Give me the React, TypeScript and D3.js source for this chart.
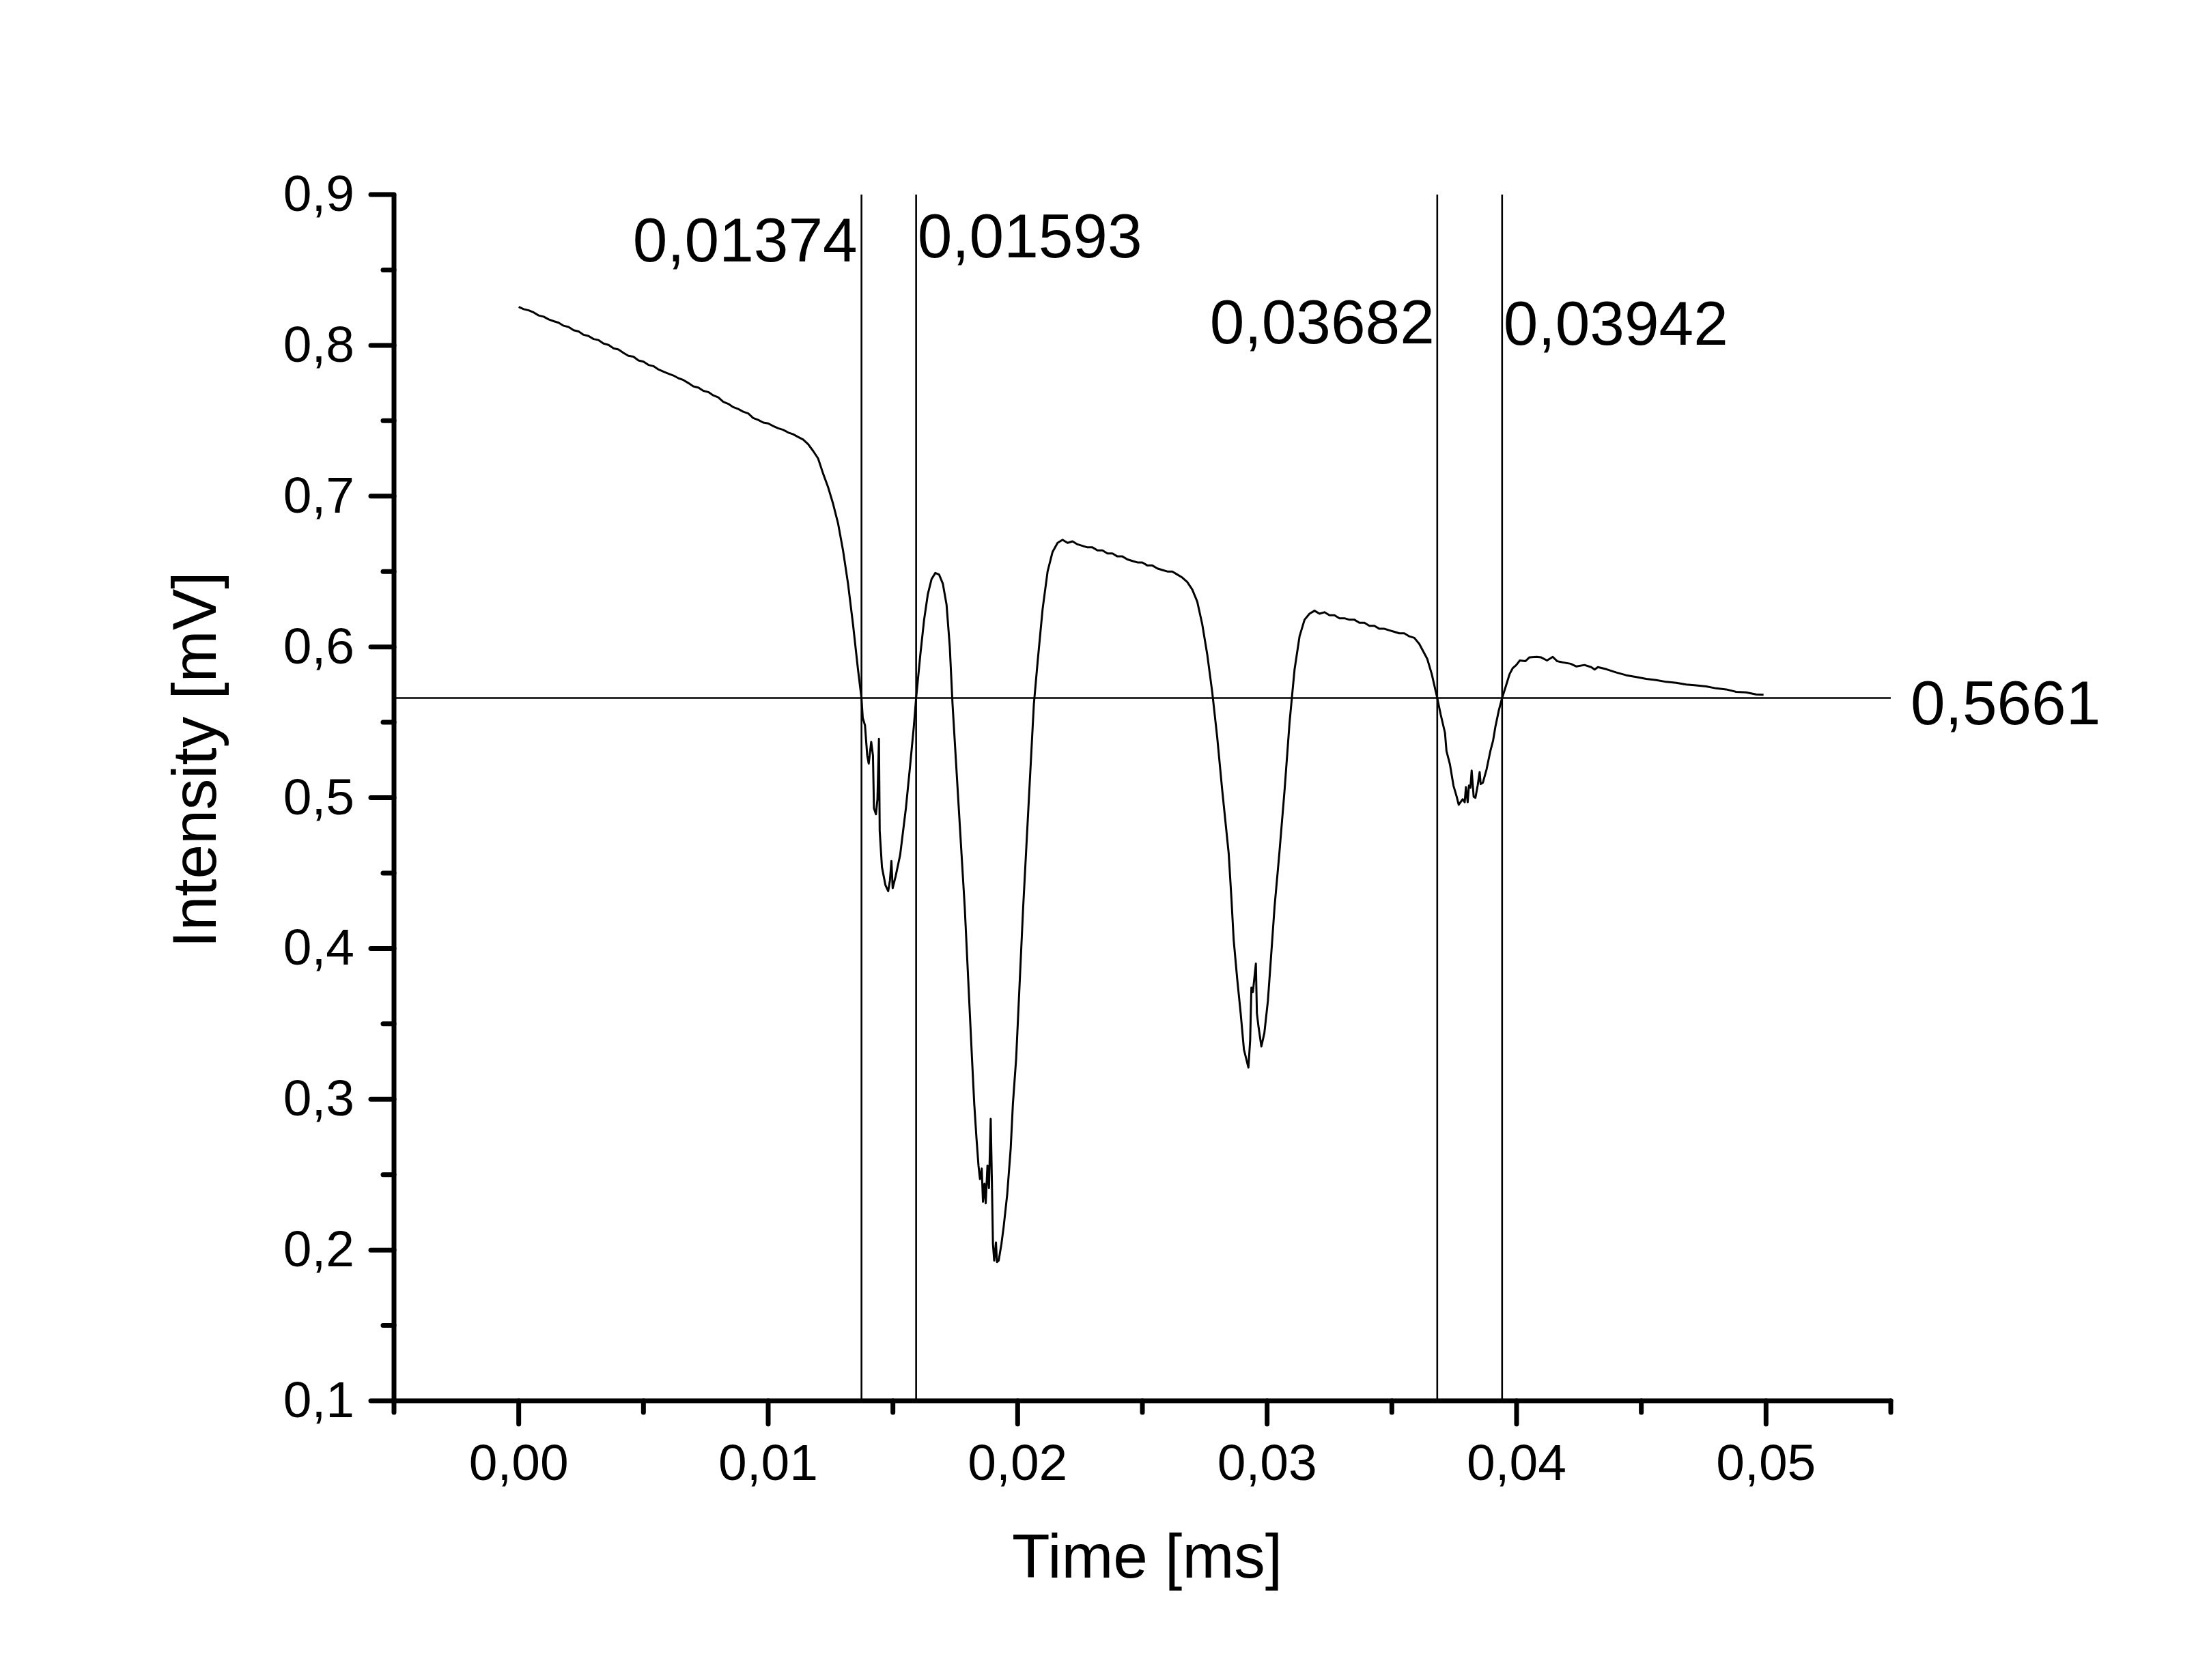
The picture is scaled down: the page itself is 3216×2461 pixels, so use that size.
import React from "react";
import * as d3 from "d3";

// ---- data ----
const timeMs: number[] = [
  0.0000, 0.0002, 0.0004, 0.0006, 0.0008, 0.0010, 0.0012, 0.0014, 0.0016, 0.0018,
  0.0020, 0.0022, 0.0024, 0.0026, 0.0028, 0.0030, 0.0032, 0.0034, 0.0036, 0.0038,
  0.0040, 0.0042, 0.0044, 0.0046, 0.0048, 0.0050, 0.0052, 0.0054, 0.0056, 0.0058,
  0.0060, 0.0062, 0.0064, 0.0066, 0.0068, 0.0070, 0.0072, 0.0074, 0.0076, 0.0078,
  0.0080, 0.0082, 0.0084, 0.0086, 0.0088, 0.0090, 0.0092, 0.0094, 0.0096, 0.0098,
  0.0100, 0.0102, 0.0104, 0.0106, 0.0108, 0.0110, 0.0112, 0.0114, 0.0116, 0.0118,
  0.0120, 0.0122, 0.0124, 0.0126, 0.0128, 0.0130, 0.0132, 0.0134, 0.0136, 0.01374,
  0.01379, 0.01388, 0.01397, 0.01403, 0.01413, 0.01420, 0.01424, 0.01432, 0.01438, 0.01444,
  0.01447, 0.01456, 0.01470, 0.01481, 0.01488, 0.01494, 0.01499, 0.01511, 0.01529, 0.01552,
  0.01570, 0.01584, 0.01593,
  0.01610, 0.01625, 0.01640, 0.01655, 0.01670, 0.01685, 0.01700, 0.01715, 0.01728, 0.01739,
  0.01760, 0.01788, 0.01817,
  0.01826, 0.01835, 0.01843, 0.01849, 0.01856, 0.01861, 0.01867, 0.01872, 0.01879, 0.01885,
  0.01892, 0.01897, 0.01901, 0.01906, 0.01913, 0.01917, 0.01924, 0.01935, 0.01944, 0.01958,
  0.01972, 0.01981, 0.01994, 0.02022, 0.02065,
  0.0208, 0.0210, 0.0212, 0.0214, 0.0216, 0.0218, 0.0220, 0.0222, 0.0224, 0.0226,
  0.0228, 0.0230, 0.0232, 0.0234, 0.0236, 0.0238, 0.0240, 0.0242, 0.0244, 0.0246,
  0.0248, 0.0250, 0.0252, 0.0254, 0.0256, 0.0258, 0.0260, 0.0262, 0.0264, 0.0266,
  0.0268, 0.0270, 0.0272, 0.0274, 0.0276, 0.0278, 0.0280, 0.0282, 0.02846,
  0.02857, 0.02866, 0.02880, 0.02894, 0.02907, 0.02925, 0.02932, 0.02937, 0.02943, 0.02955,
  0.02959, 0.02966, 0.02977, 0.02989, 0.03003, 0.03016, 0.03030, 0.03049,
  0.0307, 0.0309, 0.0311, 0.0313, 0.0315, 0.0317, 0.0319, 0.0321, 0.0323, 0.0325,
  0.0327, 0.0329, 0.0331, 0.0333, 0.0335, 0.0337, 0.0339, 0.0341, 0.0343, 0.0345,
  0.0347, 0.0349, 0.0351, 0.0353, 0.0355, 0.0357, 0.0359, 0.0361, 0.03642, 0.0366,
  0.03682,
  0.03696, 0.03713, 0.03719, 0.03733, 0.03747, 0.03760, 0.03768, 0.03784, 0.03792, 0.03797,
  0.03804, 0.03809, 0.03815, 0.03820, 0.03828, 0.03835, 0.03844, 0.03852, 0.03856, 0.03865,
  0.03880, 0.03895, 0.03906, 0.03915, 0.03929, 0.03942,
  0.03958, 0.03972, 0.03985, 0.03999, 0.04013, 0.04035, 0.04051, 0.04081, 0.04099, 0.04122,
  0.04145, 0.04163, 0.04190, 0.04217, 0.04240, 0.04272, 0.04299, 0.04313, 0.04326,
  0.0436, 0.0440, 0.0444, 0.0448, 0.0452, 0.0456, 0.0460, 0.0464, 0.0468, 0.0472,
  0.0476, 0.0480, 0.0484, 0.0488, 0.0492, 0.0496, 0.0499,
];

const intensityMv: number[] = [
  0.8255, 0.8240, 0.8232, 0.8218, 0.8198, 0.8190, 0.8172, 0.8160, 0.8150, 0.8130,
  0.8122, 0.8100, 0.8092, 0.8070, 0.8062, 0.8042, 0.8035, 0.8012, 0.8003, 0.7980,
  0.7972, 0.7950, 0.7930, 0.7925, 0.7900, 0.7892, 0.7870, 0.7862, 0.7840, 0.7826,
  0.7812, 0.7800, 0.7782, 0.7770, 0.7750, 0.7728, 0.7720, 0.7698, 0.7690, 0.7668,
  0.7655, 0.7625, 0.7612, 0.7590, 0.7578, 0.7560, 0.7548, 0.7518, 0.7505, 0.7488,
  0.7482, 0.7465, 0.7450, 0.7440, 0.7422, 0.7410, 0.7392, 0.7375, 0.7345, 0.7300,
  0.7250, 0.7150, 0.7060, 0.6950, 0.6820, 0.6640, 0.6420, 0.6150, 0.5850, 0.5661,
  0.553, 0.548, 0.528, 0.5226, 0.537, 0.528, 0.493, 0.489, 0.499, 0.539,
  0.478, 0.454, 0.442, 0.438, 0.445, 0.458, 0.440, 0.448, 0.462, 0.493,
  0.523, 0.5475, 0.5661,
  0.595, 0.618, 0.635, 0.645, 0.649, 0.648, 0.642, 0.628, 0.600, 0.562,
  0.504, 0.427, 0.327,
  0.297, 0.274, 0.256, 0.247, 0.254, 0.232, 0.244, 0.231, 0.256, 0.241,
  0.287, 0.243, 0.204, 0.193, 0.205, 0.192, 0.193, 0.204, 0.2155, 0.2367,
  0.267, 0.297, 0.327, 0.427, 0.562,
  0.590, 0.625, 0.650, 0.663, 0.669, 0.671, 0.669, 0.670, 0.668, 0.667,
  0.666, 0.666, 0.664, 0.664, 0.662, 0.662, 0.660, 0.660, 0.658, 0.657,
  0.656, 0.656, 0.654, 0.654, 0.652, 0.651, 0.650, 0.650, 0.648, 0.646,
  0.643, 0.638, 0.630, 0.615, 0.595, 0.570, 0.540, 0.505, 0.463,
  0.433, 0.4056, 0.380, 0.357, 0.333, 0.321, 0.339, 0.374, 0.371, 0.390,
  0.357, 0.3475, 0.335, 0.344, 0.365, 0.395, 0.428, 0.463,
  0.505, 0.550, 0.585, 0.607, 0.618, 0.622, 0.624, 0.622, 0.623, 0.621,
  0.621, 0.619, 0.619, 0.618, 0.618, 0.616, 0.616, 0.614, 0.614, 0.612,
  0.612, 0.611, 0.610, 0.609, 0.609, 0.607, 0.606, 0.602, 0.592, 0.582,
  0.5661,
  0.555, 0.543, 0.531, 0.522, 0.508, 0.5006, 0.4953, 0.499, 0.497, 0.507,
  0.497, 0.508, 0.5066, 0.518, 0.5006, 0.4999, 0.508, 0.517, 0.509, 0.510,
  0.519, 0.531, 0.538, 0.547, 0.558, 0.5661,
  0.5745, 0.582, 0.586, 0.588, 0.591, 0.5905, 0.593, 0.5934, 0.593, 0.591,
  0.5934, 0.5905, 0.5896, 0.5888, 0.587, 0.588, 0.5866, 0.585, 0.5866,
  0.5852, 0.5830, 0.5812, 0.5800, 0.5788, 0.5780, 0.5768, 0.5762, 0.5750, 0.5745,
  0.5738, 0.5725, 0.5718, 0.5702, 0.5698, 0.5685, 0.5682,
];

const markerTimes: number[] = [0.01374, 0.01593, 0.03682, 0.03942];
const markerLabels: string[] = ["0,01374", "0,01593", "0,03682", "0,03942"];
const thresholdValue = 0.5661;
const thresholdLabel = "0,5661";

const xMajorTicks: number[] = [0, 0.01, 0.02, 0.03, 0.04, 0.05];
const xTickLabels: string[] = ["0,00", "0,01", "0,02", "0,03", "0,04", "0,05"];
const xMinorTicks: number[] = [-0.005, 0.005, 0.015, 0.025, 0.035, 0.045, 0.055];
const yMajorTicks: number[] = [0.1, 0.2, 0.3, 0.4, 0.5, 0.6, 0.7, 0.8, 0.9];
const yTickLabels: string[] = ["0,1", "0,2", "0,3", "0,4", "0,5", "0,6", "0,7", "0,8", "0,9"];
const yMinorTicks: number[] = [0.15, 0.25, 0.35, 0.45, 0.55, 0.65, 0.75, 0.85];

const xTitle = "Time [ms]";
const yTitle = "Intensity [mV]";

// ---- layout ----
const W = 3216;
const H = 2461;
const FONT = "'Liberation Sans', Arial, sans-serif";

export default function App() {
  const x = d3.scaleLinear().domain([-0.005, 0.055]).range([577, 2769]);
  const y = d3.scaleLinear().domain([0.1, 0.9]).range([2052, 285]);

  const pts = timeMs.map((t, i) => [t, intensityMv[i]] as [number, number]);
  const line = d3
    .line<[number, number]>()
    .x((d) => x(d[0]))
    .y((d) => y(d[1]));

  const x0 = x(-0.005);
  const x1 = x(0.055);
  const yb = y(0.1);
  const yt = y(0.9);

  // label placement (pixel baselines) relative to marker lines
  const markerLabelPos = [
    { anchor: "end", dx: -6, by: 383 },
    { anchor: "start", dx: 2, by: 377 },
    { anchor: "end", dx: -4, by: 503 },
    { anchor: "start", dx: 2, by: 505 },
  ];

  return (
    <svg
      width={W}
      height={H}
      viewBox={`0 0 ${W} ${H}`}
      style={{ position: "absolute", left: 0, top: 0, background: "#fff" }}
    >
      <rect x={0} y={0} width={W} height={H} fill="#fff" />

      {/* threshold + markers */}
      <line x1={x0} x2={x1} y1={y(thresholdValue)} y2={y(thresholdValue)} stroke="#000" strokeWidth={2.6} />
      {markerTimes.map((t, i) => (
        <line key={"m" + i} x1={x(t)} x2={x(t)} y1={yt} y2={yb} stroke="#000" strokeWidth={2.6} />
      ))}

      {/* data curve */}
      <path d={line(pts) || ""} fill="none" stroke="#000" strokeWidth={3} strokeLinejoin="round" />

      {/* axes */}
      <g stroke="#000" strokeWidth={7} strokeLinecap="round">
        <line x1={x0} x2={x0} y1={yt} y2={yb} strokeLinecap="butt" />
        <line x1={x0} x2={x1} y1={yb} y2={yb} />
        {yMajorTicks.map((v, i) => (
          <line key={"ymj" + i} x1={x0 - 34} x2={x0} y1={y(v)} y2={y(v)} />
        ))}
        {yMinorTicks.map((v, i) => (
          <line key={"ymn" + i} x1={x0 - 16} x2={x0} y1={y(v)} y2={y(v)} />
        ))}
        {xMajorTicks.map((v, i) => (
          <line key={"xmj" + i} x1={x(v)} x2={x(v)} y1={yb} y2={yb + 34} />
        ))}
        {xMinorTicks.map((v, i) => (
          <line key={"xmn" + i} x1={x(v)} x2={x(v)} y1={yb} y2={yb + 17} />
        ))}
      </g>

      {/* tick labels */}
      <g fontFamily={FONT} fontSize={75} fill="#000">
        {yMajorTicks.map((v, i) => (
          <text key={"yl" + i} x={519} y={y(v) + 24} textAnchor="end">
            {yTickLabels[i]}
          </text>
        ))}
        {xMajorTicks.map((v, i) => (
          <text key={"xl" + i} x={x(v)} y={2168} textAnchor="middle">
            {xTickLabels[i]}
          </text>
        ))}
      </g>

      {/* annotation labels */}
      <g fontFamily={FONT} fontSize={91} fill="#000">
        {markerTimes.map((t, i) => (
          <text
            key={"ml" + i}
            x={x(t) + markerLabelPos[i].dx}
            y={markerLabelPos[i].by}
            textAnchor={markerLabelPos[i].anchor as any}
          >
            {markerLabels[i]}
          </text>
        ))}
        <text x={x1 + 29} y={y(thresholdValue) + 38} textAnchor="start">
          {thresholdLabel}
        </text>
      </g>

      {/* axis titles */}
      <g fontFamily={FONT} fontSize={91} fill="#000">
        <text x={1680} y={2311} textAnchor="middle">
          {xTitle}
        </text>
        <text transform={`translate(316, 1113) rotate(-90)`} textAnchor="middle">
          {yTitle}
        </text>
      </g>
    </svg>
  );
}
